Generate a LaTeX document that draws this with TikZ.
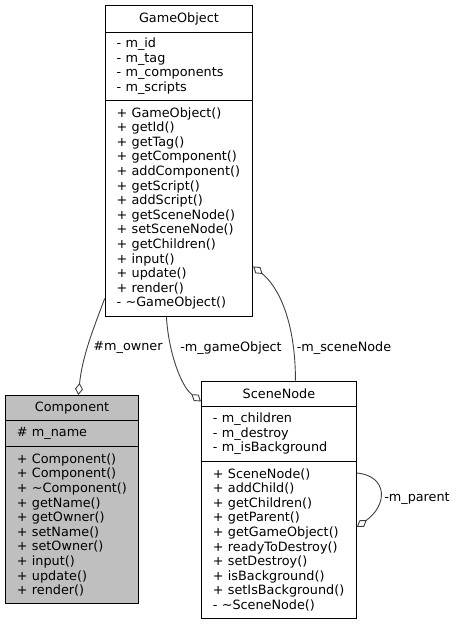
\documentclass[tikz,border=0pt]{standalone}
\usepackage{fontspec}
\setmainfont{DejaVu Sans}
\usetikzlibrary{arrows.meta}
\definecolor{compfill}{HTML}{BFBFBF}
\definecolor{edgecol}{HTML}{404040}
\begin{document}
\begin{tikzpicture}[x=1pt,y=-1pt,
  sec/.style={draw=black, line width=0.9pt, anchor=north west, inner xsep=11.5pt, inner ysep=0pt, font=\fontsize{12.8}{14.6}\selectfont},
  ttl/.style={sec, align=center},
  lst/.style={sec, align=left},
  edge/.style={draw=edgecol, line width=0.9pt, -{Diamond[open,length=12pt,width=8pt,line width=0.9pt]}},
  lbl/.style={font=\fontsize{12.8}{14.6}\selectfont, inner sep=0pt}
]
\useasboundingbox (0,0) rectangle (457,624);

% GameObject
\node[ttl, text width=124.6pt, minimum height=26.4pt] (got) at (104.7,5.3) {GameObject};
\node[lst, text width=124.6pt, minimum height=68.3pt] (goa) at (104.7,31.7) {- m\_id\\- m\_tag\\- m\_components\\- m\_scripts};
\node[lst, text width=124.6pt, minimum height=216pt] (gom) at (104.7,100) {+ GameObject()\\+ getId()\\+ getTag()\\+ getComponent()\\+ addComponent()\\+ getScript()\\+ addScript()\\+ getSceneNode()\\+ setSceneNode()\\+ getChildren()\\+ input()\\+ update()\\+ render()\\- \textasciitilde GameObject()};

% Component
\node[ttl, fill=compfill, text width=110.3pt, minimum height=25pt] (ct) at (5,395) {Component};
\node[lst, fill=compfill, text width=110.3pt, minimum height=25.7pt] (ca) at (5,420) {\# m\_name};
\node[lst, fill=compfill, text width=110.3pt, minimum height=157.6pt] (cm) at (5,445.7) {+ Component()\\+ Component()\\+ \textasciitilde Component()\\+ getName()\\+ getOwner()\\+ setName()\\+ setOwner()\\+ input()\\+ update()\\+ render()};

% SceneNode
\node[ttl, text width=132pt, minimum height=25.3pt] (snt) at (201,380.7) {SceneNode};
\node[lst, text width=132pt, minimum height=55pt] (sna) at (201,406) {- m\_children\\- m\_destroy\\- m\_isBackground};
\node[lst, text width=132pt, minimum height=156.7pt] (snm) at (201,461) {+ SceneNode()\\+ addChild()\\+ getChildren()\\+ getParent()\\+ getGameObject()\\+ readyToDestroy()\\+ setDestroy()\\+ isBackground()\\+ setIsBackground()\\- \textasciitilde SceneNode()};

% connectors
\draw[edge] ([yshift=-90pt]gom.west) .. controls +(-10,27) and +(4,-40) .. ([xshift=6.3pt]ct.north);
\draw[edge] ([xshift=-12.5pt]gom.south) .. controls +(2,35) and +(-20,-15) .. ([yshift=-7.6pt]snt.west);
\draw[edge] ([xshift=16.5pt]snt.north) .. controls +(0,-60) and +(25,20) .. ([yshift=-58pt]gom.east);
\draw[edge] ([yshift=-12pt]snm.north east) .. controls +(31,3) and +(31,-22) .. ([yshift=-66pt]snm.north east);

% labels
\node[lbl] (lowner) at (128,347.7) {\#m\_owner};
\node[lbl] (lgo) at (231,347.7) {-m\_gameObject};
\node[lbl] (lsn) at (344,347.7) {-m\_sceneNode};
\node[lbl] (lpar) at (417,499) {-m\_parent};
\end{tikzpicture}
\end{document}
